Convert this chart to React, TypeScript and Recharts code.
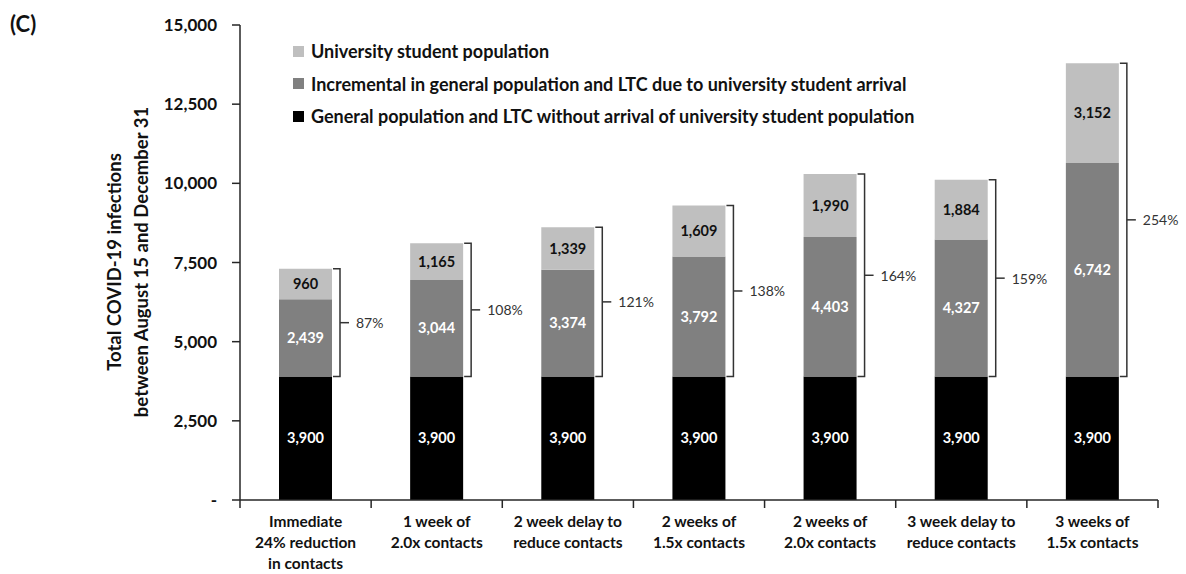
import { BarChart, Bar, XAxis, YAxis, Legend, LabelList } from "recharts";

const categories = [
  "Immediate\n24% reduction\nin contacts",
  "1 week of\n2.0x contacts",
  "2 week delay to\nreduce contacts",
  "2 weeks of\n1.5x contacts",
  "2 weeks of\n2.0x contacts",
  "3 week delay to\nreduce contacts",
  "3 weeks of\n1.5x contacts",
];
const generalPopulation = [3900, 3900, 3900, 3900, 3900, 3900, 3900];
const incremental = [2439, 3044, 3374, 3792, 4403, 4327, 6742];
const studentPopulation = [960, 1165, 1339, 1609, 1990, 1884, 3152];
const increasePct = ["87%", "108%", "121%", "138%", "164%", "159%", "254%"];
const yTicks = [0, 2500, 5000, 7500, 10000, 12500, 15000];

const seriesNames = {
  student: "University student population",
  incremental: "Incremental in general population and LTC due to university student arrival",
  general: "General population and LTC without arrival of university student population",
};

const FONT = "Lato, 'Open Sans', sans-serif";
const AXIS = "#262626";

const data = categories.map((name, i) => ({
  name,
  general: generalPopulation[i],
  incremental: incremental[i],
  student: studentPopulation[i],
}));

const fmt = (v: number) => v.toLocaleString("en-US");

const CategoryTick = ({ x, y, payload, index }: any) => {
  const lines = String(payload.value).split("\n");
  const half = payload.offset ?? 0;
  return (
    <g>
      <line x1={x - half} x2={x - half} y1={y - 8} y2={y} stroke={AXIS} strokeWidth={1.5} />
      {index === categories.length - 1 && (
        <line x1={x + half} x2={x + half} y1={y - 8} y2={y} stroke={AXIS} strokeWidth={1.5} />
      )}
      <text textAnchor="middle" fontFamily={FONT} fontWeight={700} fontSize={15.5} fill="#111">
        {lines.map((l, k) => (
          <tspan key={k} x={x} y={y + 19 + k * 21}>
            {l}
          </tspan>
        ))}
      </text>
    </g>
  );
};

const YTitle = () => (
  <g fontFamily={FONT} fontWeight={700} fontSize={18.5} fill="#111">
    <text transform="translate(121,262) rotate(-90)" textAnchor="middle">
      Total COVID-19 infections
    </text>
    <text transform="translate(148,262) rotate(-90)" textAnchor="middle">
      between August 15 and December 31
    </text>
  </g>
);

const Bracket = (props: any) => {
  const { x, y, width, height, index } = props;
  const s = studentPopulation[index];
  const bottom = Number(y) + (Number(height) * (s + incremental[index])) / s;
  const left = Number(x) + Number(width) + 1;
  const bx = left + 7;
  const mid = (Number(y) + bottom) / 2;
  return (
    <g>
      <path d={`M${left},${y} H${bx} V${bottom} H${left}`} fill="none" stroke="#333" strokeWidth={1.5} />
      <line x1={bx} x2={bx + 9} y1={mid} y2={mid} stroke="#333" strokeWidth={1.5} />
      <text
        x={bx + 16}
        y={mid}
        dominantBaseline="central"
        fontFamily={FONT}
        fontSize={14}
        fill="#333"
        stroke="#fff"
        strokeWidth={4}
        paintOrder="stroke"
      >
        {increasePct[index]}
      </text>
    </g>
  );
};

const LegendBox = () => {
  const items = [
    { name: seriesNames.student, color: "#BFBFBF" },
    { name: seriesNames.incremental, color: "#808080" },
    { name: seriesNames.general, color: "#000000" },
  ];
  return (
    <div style={{ fontFamily: FONT, fontWeight: 700, fontSize: 18, color: "#111" }}>
      {items.map((it) => (
        <div key={it.name} style={{ display: "flex", alignItems: "center", height: 32.5 }}>
          <span style={{ width: 11, height: 11, background: it.color, marginRight: 7, display: "inline-block" }} />
          {it.name}
        </div>
      ))}
    </div>
  );
};

const valueLabel = { fontFamily: FONT, fontWeight: 700, fontSize: 14.5 };

export default function App() {
  return (
    <div style={{ position: "absolute", left: 0, top: 0, width: 1186, height: 574, background: "#fff" }}>
      <div
        style={{ position: "absolute", left: 10, top: 10, fontFamily: FONT, fontWeight: 700, fontSize: 22, color: "#111" }}
      >
        (C)
      </div>
      <BarChart width={1186} height={574} data={data} margin={{ top: 25, right: 28, left: 0, bottom: 4 }}>
        <XAxis
          dataKey="name"
          height={70}
          interval={0}
          tickSize={8}
          tickMargin={0}
          tickLine={false}
          axisLine={{ stroke: AXIS, strokeWidth: 1.5 }}
          tick={<CategoryTick />}
        />
        <XAxis xAxisId="top" dataKey="name" orientation="top" height={0} tick={false} tickLine={false} axisLine={{ stroke: AXIS, strokeWidth: 1.5 }} />
        <YAxis
          width={240}
          domain={[0, 15000]}
          ticks={yTicks}
          interval={0}
          tickSize={8}
          tickMargin={15}
          tickLine={{ stroke: AXIS, strokeWidth: 1.5 }}
          axisLine={{ stroke: AXIS, strokeWidth: 1.5 }}
          tickFormatter={(v: number) => (v === 0 ? "-   " : fmt(v))}
          tick={{ fontFamily: FONT, fontWeight: 700, fontSize: 17, fill: "#111" }}
          label={{ content: <YTitle /> }}
        />
        <YAxis yAxisId="right" orientation="right" width={0} domain={[0, 15000]} tick={false} tickLine={false} axisLine={{ stroke: AXIS, strokeWidth: 1.5 }} />
        <Legend
          content={<LegendBox />}
          layout="vertical"
          verticalAlign="middle"
          align="center"
          wrapperStyle={{ top: 35, left: 293, width: 800 }}
        />
        <Bar dataKey="general" name={seriesNames.general} stackId="a" fill="#000000" barSize={53} isAnimationActive={false}>
          <LabelList dataKey="general" position="center" formatter={(v: any) => fmt(Number(v))} fill="#fff" style={valueLabel} />
        </Bar>
        <Bar dataKey="incremental" name={seriesNames.incremental} stackId="a" fill="#808080" barSize={53} isAnimationActive={false}>
          <LabelList dataKey="incremental" position="center" formatter={(v: any) => fmt(Number(v))} fill="#fff" style={valueLabel} />
        </Bar>
        <Bar dataKey="student" name={seriesNames.student} stackId="a" fill="#BFBFBF" barSize={53} isAnimationActive={false}>
          <LabelList dataKey="student" position="center" formatter={(v: any) => fmt(Number(v))} fill="#111" style={valueLabel} />
          <LabelList dataKey="student" content={<Bracket />} />
        </Bar>
      </BarChart>
    </div>
  );
}
